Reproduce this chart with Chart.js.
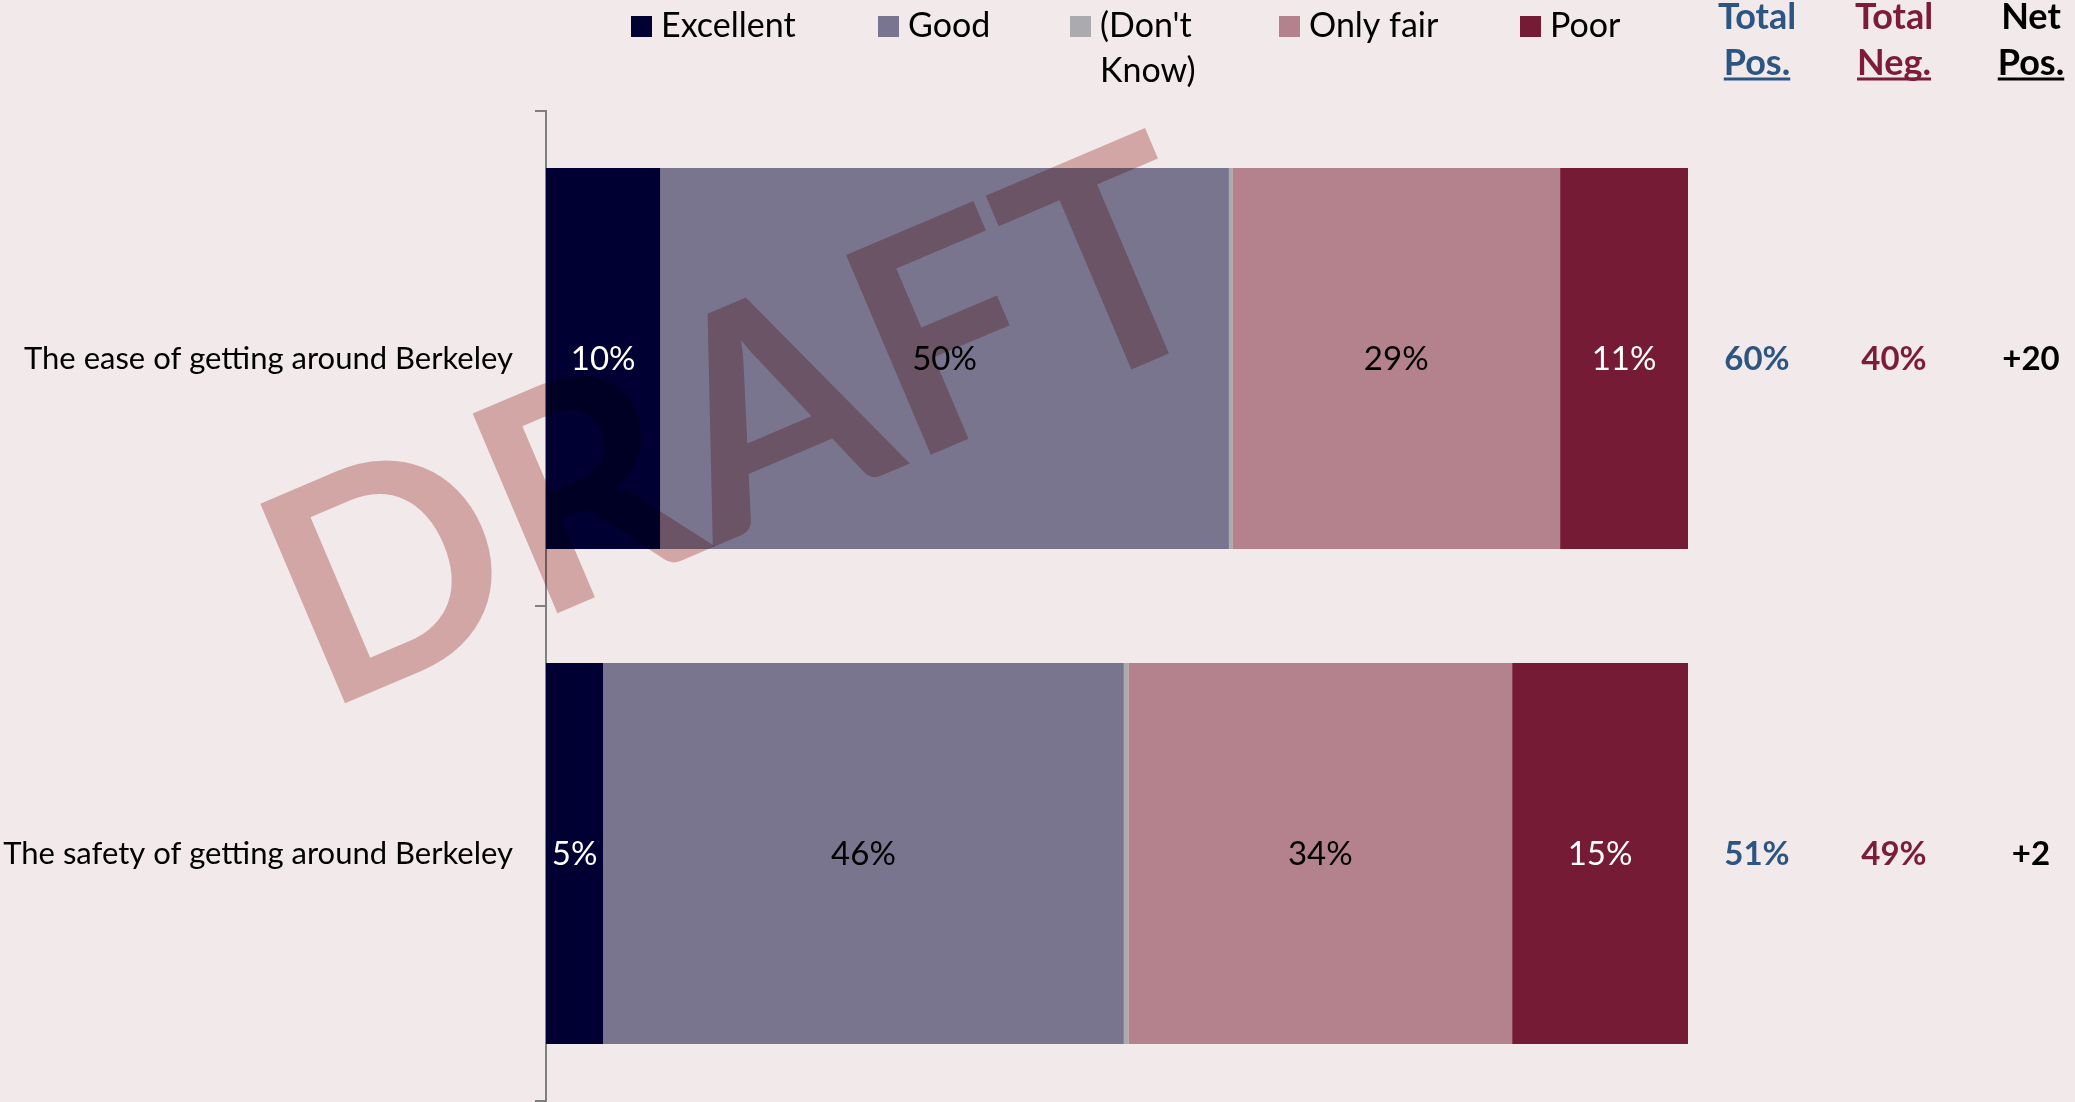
<!DOCTYPE html>
<html><head><meta charset="utf-8">
<script src="https://cdn.jsdelivr.net/npm/chart.js@4.4.1/dist/chart.umd.min.js"></script>
<style>html,body{margin:0;padding:0;background:#F2E9EA;overflow:hidden;} canvas{display:block;}</style>
</head><body>
<canvas id="c" width="2075" height="1102"></canvas>
<script>
// ---- data ----
const categories = ['The ease of getting around Berkeley', 'The safety of getting around Berkeley'];
const seriesNames = ['Excellent', 'Good', "(Don't Know)", 'Only fair', 'Poor'];
const legendLines = [['Excellent'], ['Good'], ["(Don't", 'Know)'], ['Only fair'], ['Poor']];
const excellent = [10.0, 5.0];
const good = [49.8, 45.6];
const dontKnow = [0.3, 0.4];
const onlyFair = [28.7, 33.6];
const poor = [11.2, 15.4];
const totalPos = [60, 51];
const totalNeg = [40, 49];
const netPos = [20, 2];
const xMin = 0, xMax = 100;
const headers = [['Total', 'Pos.'], ['Total', 'Neg.'], ['Net', 'Pos.']];
const watermarkText = 'DRAFT';

// ---- style ----
const BG = '#F2E9EA';
const colors = ['#000033', '#79758E', '#ABABAF', '#B3828C', '#761B35'];
const labelColors = ['#FFFFFF', '#000000', null, '#000000', '#FFFFFF'];
const colColors = ['#2C5582', '#7A1C3A', '#000000'];
const colX = [1757, 1894, 2031];
const legendX = [631, 878, 1070, 1279, 1520];
const FONT = 'Lato, "Open Sans", sans-serif';

const seriesValues = [excellent, good, dontKnow, onlyFair, poor];

const bgPlugin = {
  id: 'bg',
  beforeDraw(chart) {
    const ctx = chart.ctx;
    ctx.save();
    ctx.fillStyle = BG;
    ctx.fillRect(0, 0, chart.width, chart.height);
    ctx.restore();
  }
};

const overlayPlugin = {
  id: 'overlay',
  afterDatasetsDraw(chart) {
    const ctx = chart.ctx;
    ctx.save();
    // data labels inside bars
    ctx.font = '33px ' + FONT;
    ctx.textAlign = 'center';
    ctx.textBaseline = 'middle';
    chart.data.datasets.forEach((ds, di) => {
      if (!labelColors[di]) return;
      const meta = chart.getDatasetMeta(di);
      meta.data.forEach((el, i) => {
        const c = el.getCenterPoint();
        ctx.fillStyle = labelColors[di];
        ctx.fillText(Math.round(ds.data[i]) + '%', c.x, c.y + 1);
      });
    });

    // legend
    ctx.font = '34px ' + FONT;
    ctx.textAlign = 'left';
    ctx.textBaseline = 'alphabetic';
    chart.data.datasets.forEach((ds, di) => {
      const x = legendX[di];
      ctx.fillStyle = ds.backgroundColor;
      ctx.fillRect(x, 16, 21, 21);
      ctx.fillStyle = '#000000';
      legendLines[di].forEach((line, li) => {
        ctx.fillText(line, x + 30, 37 + li * 45);
      });
    });

    // right-hand columns: headers
    ctx.font = 'bold 36px ' + FONT;
    ctx.textAlign = 'center';
    headers.forEach((h, k) => {
      ctx.fillStyle = colColors[k];
      ctx.fillText(h[0], colX[k], 29);
      ctx.fillText(h[1], colX[k], 75);
      const w = ctx.measureText(h[1]).width;
      ctx.fillRect(colX[k] - w / 2, 77.5, w, 3);
    });

    // right-hand columns: values
    const yScale = chart.scales.y;
    ctx.font = 'bold 33px ' + FONT;
    ctx.textBaseline = 'middle';
    categories.forEach((cat, i) => {
      const y = yScale.getPixelForValue(i) + 1;
      ctx.fillStyle = colColors[0];
      ctx.fillText(totalPos[i] + '%', colX[0], y);
      ctx.fillStyle = colColors[1];
      ctx.fillText(totalNeg[i] + '%', colX[1], y);
      ctx.fillStyle = colColors[2];
      ctx.fillText((netPos[i] >= 0 ? '+' : '') + netPos[i], colX[2], y);
    });
    ctx.restore();
  },
  afterDraw(chart) {
    // watermark
    const ctx = chart.ctx;
    ctx.save();
    ctx.globalCompositeOperation = 'multiply';
    ctx.fillStyle = '#DFB6B5';
    ctx.font = 'bold 300px ' + FONT;
    ctx.textAlign = 'center';
    ctx.textBaseline = 'alphabetic';
    const w = ctx.measureText(watermarkText).width;
    ctx.translate(736, 420);
    ctx.rotate(-23 * Math.PI / 180);
    ctx.scale(990 / w, 1);
    ctx.fillText(watermarkText, 0, 108);
    ctx.restore();
  }
};

new Chart(document.getElementById('c'), {
  type: 'bar',
  data: {
    labels: categories,
    datasets: seriesNames.map((name, di) => ({
      label: name,
      data: seriesValues[di],
      backgroundColor: colors[di],
      borderWidth: 0,
      categoryPercentage: 1.0,
      barPercentage: 0.77
    }))
  },
  options: {
    indexAxis: 'y',
    responsive: false,
    animation: false,
    events: [],
    layout: { autoPadding: false, padding: { top: 111, right: 387, bottom: 1, left: 0 } },
    plugins: {
      legend: { display: false },
      title: { display: false },
      tooltip: { enabled: false }
    },
    scales: {
      x: { stacked: true, display: false, min: xMin, max: xMax },
      y: {
        stacked: true,
        afterFit(scale) {
          scale.width = 546;
          scale.paddingTop = 0;
          scale.paddingBottom = 0;
        },
        grid: {
          drawOnChartArea: false,
          drawTicks: true,
          tickLength: 11,
          color: '#7F7F7F',
          lineWidth: 2,
          offset: true
        },
        border: { display: true, color: '#7F7F7F', width: 2 },
        ticks: {
          color: '#000000',
          padding: 22,
          font: { family: FONT, size: 31 }
        }
      }
    }
  },
  plugins: [bgPlugin, overlayPlugin]
});
</script>
</body></html>
